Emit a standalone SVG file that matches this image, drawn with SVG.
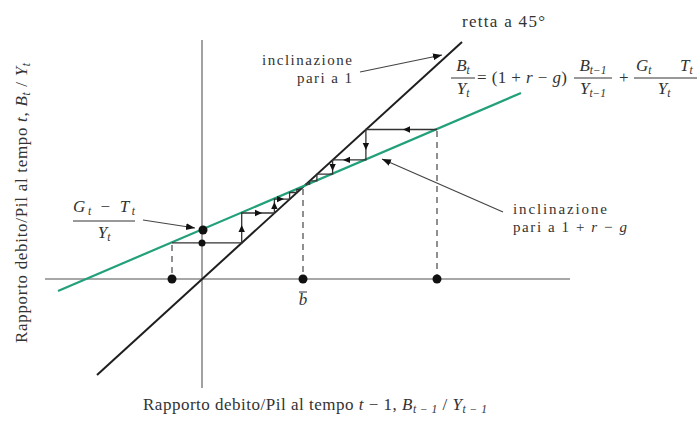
<svg xmlns="http://www.w3.org/2000/svg" width="697" height="421" viewBox="0 0 697 421">
<style>
text{font-family:"Liberation Serif","Times New Roman",serif;fill:#333;font-size:17px}
.lbl{font-size:15px}
.it{font-style:italic}
.sub{font-size:11.5px}
.axis{stroke:#8a8a8a;stroke-width:1.6;fill:none}
.black{stroke:#1e1e1e;stroke-width:2;fill:none}
.green{stroke:#22a07a;stroke-width:2.2;fill:none}
.dash{stroke:#555;stroke-width:1.3;stroke-dasharray:6,5;fill:none}
.cob{stroke:#333;stroke-width:1.3;fill:none}
.lead{stroke:#444;stroke-width:1.2;fill:none}
.bar{stroke:#333;stroke-width:1}
.ah{fill:#111}
.dot{fill:#111}
</style>
<defs>
<path id="ah" d="M0,0 L-7,-3.2 L-7,3.2 Z"/>
<marker id="arr" markerWidth="10" markerHeight="8" refX="9" refY="4" orient="auto" markerUnits="userSpaceOnUse">
<path d="M0,0.5 L9,4 L0,7.5 Z" fill="#111"/>
</marker>
</defs>

<g id="axes">
<line class="axis" x1="202" y1="40" x2="202" y2="388"/>
<line class="axis" x1="45" y1="279" x2="570" y2="279"/>
</g>

<g id="lines">
<line class="black" x1="97" y1="375" x2="462" y2="42"/>
<line class="green" x1="58" y1="291" x2="521" y2="93"/>
</g>

<g id="connectors">
<line class="dash" x1="172" y1="245" x2="172" y2="279"/>
<line class="dash" x1="303" y1="189" x2="303" y2="279"/>
<line class="dash" x1="437" y1="131" x2="437" y2="279"/>
<polyline class="cob" points="172,242.8 241.7,242.8 241.7,213 274.4,213 274.4,199.1 289.6,199.1 289.6,192.5 296.8,192.5 296.8,189.5 300.2,189.5 300.2,188"/>
<polyline class="cob" points="437,129.5 365.9,129.5 365.9,159.9 332.6,159.9 332.6,174.2 316.9,174.2 316.9,180.9 309.6,180.9 309.6,184 306.2,184 306.2,185.4"/>
<use href="#ah" class="ah" transform="translate(241.7,225) rotate(-90)"/>
<use href="#ah" class="ah" transform="translate(262,213)"/>
<use href="#ah" class="ah" transform="translate(274.4,202) rotate(-90)"/>
<use href="#ah" class="ah" transform="translate(284,199.1)"/>
<use href="#ah" class="ah" transform="translate(403,129.5) rotate(180)"/>
<use href="#ah" class="ah" transform="translate(365.9,150) rotate(90)"/>
<use href="#ah" class="ah" transform="translate(343,159.9) rotate(180)"/>
<use href="#ah" class="ah" transform="translate(332.6,171) rotate(90)"/>
<line class="lead" x1="360" y1="72" x2="442" y2="55" marker-end="url(#arr)"/>
<line class="lead" x1="143" y1="220" x2="195" y2="228" marker-end="url(#arr)"/>
<line class="lead" x1="503" y1="212" x2="382" y2="159" marker-end="url(#arr)"/>
</g>

<g id="dots">
<circle class="dot" cx="203" cy="230" r="4.5"/>
<circle class="dot" cx="202" cy="243" r="3.5"/>
<circle class="dot" cx="172" cy="279" r="4.5"/>
<circle class="dot" cx="303" cy="279" r="4.5"/>
<circle class="dot" cx="437" cy="279" r="4.5"/>
</g>

<g id="label-bbar">
<text class="it" x="303" y="305" text-anchor="middle">b</text>
<line class="bar" x1="299" y1="292" x2="307" y2="292"/>
</g>

<g id="label-45">
<text x="462" y="27" textLength="83" lengthAdjust="spacing">retta a 45°</text>
</g>

<g id="label-slope1">
<text class="lbl" x="262" y="65" textLength="90" lengthAdjust="spacing">inclinazione</text>
<text class="lbl" x="297" y="83" textLength="55" lengthAdjust="spacing">pari a 1</text>
</g>

<g id="label-slope2">
<text class="lbl" x="513" y="214" textLength="94" lengthAdjust="spacing">inclinazione</text>
<text class="lbl" x="513" y="232" textLength="114" lengthAdjust="spacing">pari a 1 + <tspan class="it">r</tspan> − <tspan class="it">g</tspan></text>
</g>

<g id="label-GT">
<text x="73" y="212" textLength="62" lengthAdjust="spacing"><tspan class="it">G</tspan><tspan class="it sub" dy="3">t</tspan><tspan dy="-3"> − </tspan><tspan class="it">T</tspan><tspan class="it sub" dy="3">t</tspan></text>
<line class="bar" x1="73" y1="221" x2="135" y2="221"/>
<text x="104" y="238" text-anchor="middle"><tspan class="it">Y</tspan><tspan class="it sub" dy="3">t</tspan></text>
</g>

<g id="equation">
<text x="463" y="71" text-anchor="middle"><tspan class="it">B</tspan><tspan class="it sub" dy="3">t</tspan></text>
<line class="bar" x1="451" y1="78" x2="475" y2="78"/>
<text x="463" y="94" text-anchor="middle"><tspan class="it">Y</tspan><tspan class="it sub" dy="3">t</tspan></text>
<text x="477" y="83" textLength="90" lengthAdjust="spacing">= (1 + <tspan class="it">r</tspan> − <tspan class="it">g</tspan>)</text>
<text x="593" y="71" text-anchor="middle"><tspan class="it">B</tspan><tspan class="it sub" dy="3">t−1</tspan></text>
<line class="bar" x1="574" y1="78" x2="612" y2="78"/>
<text x="593" y="94" text-anchor="middle"><tspan class="it">Y</tspan><tspan class="it sub" dy="3">t−1</tspan></text>
<text x="619" y="83">+</text>
<text x="636" y="71"><tspan class="it">G</tspan><tspan class="it sub" dy="3">t</tspan></text>
<text x="680" y="71"><tspan class="it">T</tspan><tspan class="it sub" dy="3">t</tspan></text>
<line class="bar" x1="634" y1="78" x2="697" y2="78"/>
<text x="664" y="94" text-anchor="middle"><tspan class="it">Y</tspan><tspan class="it sub" dy="3">t</tspan></text>
</g>

<g id="label-xaxis">
<text x="143" y="410" textLength="344" lengthAdjust="spacing">Rapporto debito/Pil al tempo <tspan class="it">t</tspan> − 1, <tspan class="it">B</tspan><tspan class="it sub" dy="3">t − 1</tspan><tspan dy="-3"> / </tspan><tspan class="it">Y</tspan><tspan class="it sub" dy="3">t − 1</tspan></text>
</g>

<g id="label-yaxis">
<text transform="translate(27,343) rotate(-90)" textLength="280" lengthAdjust="spacing">Rapporto debito/Pil al tempo <tspan class="it">t</tspan>, <tspan class="it">B</tspan><tspan class="it sub" dy="3">t</tspan><tspan dy="-3"> / </tspan><tspan class="it">Y</tspan><tspan class="it sub" dy="3">t</tspan></text>
</g>
</svg>
